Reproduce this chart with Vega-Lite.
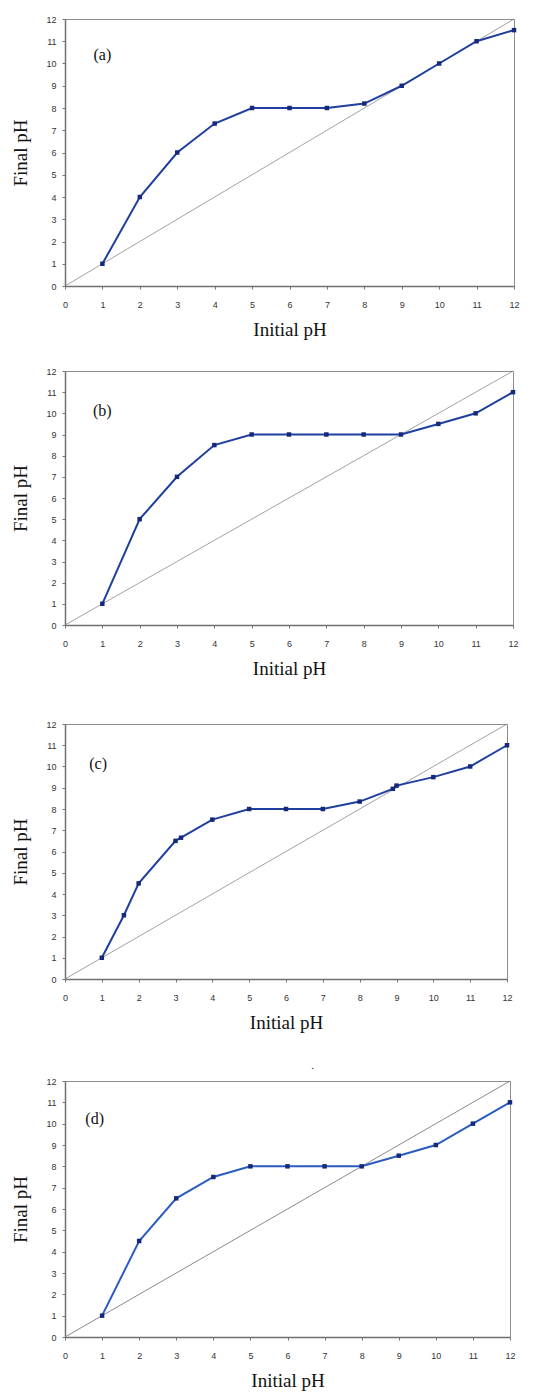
{
  "$schema": "https://vega.github.io/schema/vega-lite/v6.json",
  "background": "white",
  "padding": {"top": 14, "left": 11, "right": 8, "bottom": 0},
  "spacing": 26,
  "config": {
    "view": {"stroke": "#8c8c8c", "strokeWidth": 1},
    "axis": {
      "grid": false,
      "ticks": true,
      "tickSize": 3,
      "tickColor": "#777777",
      "domain": true,
      "domainColor": "#707070",
      "domainWidth": 1.5,
      "labelOverlap": false,
      "labelFont": "Liberation Sans",
      "labelFontSize": 9,
      "labelColor": "#333333",
      "titleFont": "Liberation Serif",
      "titleFontWeight": "normal",
      "titleFontSize": 19,
      "titleColor": "#111111"
    },
    "axisX": {"labelPadding": 11, "titlePadding": 11, "labelFlush": false},
    "axisY": {"labelPadding": 6, "titlePadding": 15},
    "title": {"font": "Liberation Sans", "fontSize": 10, "fontWeight": "normal", "color": "#222222", "offset": 4}
  },
  "datasets": {
    "curves": [
      {"panel": "a", "ix": 1, "x": 1, "y": 1}, {"panel": "a", "ix": 2, "x": 2, "y": 4}, {"panel": "a", "ix": 3, "x": 3, "y": 6}, {"panel": "a", "ix": 4, "x": 4, "y": 7.3}, {"panel": "a", "ix": 5, "x": 5, "y": 8}, {"panel": "a", "ix": 6, "x": 6, "y": 8}, {"panel": "a", "ix": 7, "x": 7, "y": 8}, {"panel": "a", "ix": 8, "x": 8, "y": 8.2}, {"panel": "a", "ix": 9, "x": 9, "y": 9}, {"panel": "a", "ix": 10, "x": 10, "y": 10}, {"panel": "a", "ix": 11, "x": 11, "y": 11}, {"panel": "a", "ix": 12, "x": 12, "y": 11.5},
      {"panel": "b", "ix": 1, "x": 1, "y": 1}, {"panel": "b", "ix": 2, "x": 2, "y": 5}, {"panel": "b", "ix": 3, "x": 3, "y": 7}, {"panel": "b", "ix": 4, "x": 4, "y": 8.5}, {"panel": "b", "ix": 5, "x": 5, "y": 9}, {"panel": "b", "ix": 6, "x": 6, "y": 9}, {"panel": "b", "ix": 7, "x": 7, "y": 9}, {"panel": "b", "ix": 8, "x": 8, "y": 9}, {"panel": "b", "ix": 9, "x": 9, "y": 9}, {"panel": "b", "ix": 10, "x": 10, "y": 9.5}, {"panel": "b", "ix": 11, "x": 11, "y": 10}, {"panel": "b", "ix": 12, "x": 12, "y": 11},
      {"panel": "c", "ix": 1, "x": 1, "y": 1}, {"panel": "c", "ix": 2, "x": 1.6, "y": 3}, {"panel": "c", "ix": 3, "x": 2, "y": 4.5}, {"panel": "c", "ix": 4, "x": 3, "y": 6.5}, {"panel": "c", "ix": 5, "x": 3.15, "y": 6.65}, {"panel": "c", "ix": 6, "x": 4, "y": 7.5}, {"panel": "c", "ix": 7, "x": 5, "y": 8}, {"panel": "c", "ix": 8, "x": 6, "y": 8}, {"panel": "c", "ix": 9, "x": 7, "y": 8}, {"panel": "c", "ix": 10, "x": 8, "y": 8.35}, {"panel": "c", "ix": 11, "x": 8.9, "y": 8.95}, {"panel": "c", "ix": 12, "x": 9, "y": 9.1}, {"panel": "c", "ix": 13, "x": 10, "y": 9.5}, {"panel": "c", "ix": 14, "x": 11, "y": 10}, {"panel": "c", "ix": 15, "x": 12, "y": 11},
      {"panel": "d", "ix": 1, "x": 1, "y": 1}, {"panel": "d", "ix": 2, "x": 2, "y": 4.5}, {"panel": "d", "ix": 3, "x": 3, "y": 6.5}, {"panel": "d", "ix": 4, "x": 4, "y": 7.5}, {"panel": "d", "ix": 5, "x": 5, "y": 8}, {"panel": "d", "ix": 6, "x": 6, "y": 8}, {"panel": "d", "ix": 7, "x": 7, "y": 8}, {"panel": "d", "ix": 8, "x": 8, "y": 8}, {"panel": "d", "ix": 9, "x": 9, "y": 8.5}, {"panel": "d", "ix": 10, "x": 10, "y": 9}, {"panel": "d", "ix": 11, "x": 11, "y": 10}, {"panel": "d", "ix": 12, "x": 12, "y": 11}
    ],
    "diag": [{"x": 0, "y": 0}, {"x": 12, "y": 12}],
    "labels": [
      {"panel": "a", "x": 1.0, "y": 10.4, "text": "(a)"},
      {"panel": "b", "x": 1.0, "y": 10.1, "text": "(b)"},
      {"panel": "c", "x": 0.9, "y": 10.1, "text": "(c)"},
      {"panel": "d", "x": 0.8, "y": 10.2, "text": "(d)"}
    ]
  },
  "vconcat": [
    {
      "width": 449, "height": 267,
      "encoding": {
        "x": {"field": "x", "type": "quantitative", "scale": {"domain": [0, 12], "nice": false}, "axis": {"values": [0,1,2,3,4,5,6,7,8,9,10,11,12], "labelOverlap": false, "title": "Initial pH", "titleFont": "Liberation Serif"}},
        "y": {"field": "y", "type": "quantitative", "scale": {"domain": [0, 12], "nice": false}, "axis": {"values": [0,1,2,3,4,5,6,7,8,9,10,11,12], "labelOverlap": false, "title": "Final pH", "titleFont": "Liberation Serif"}}
      },
      "layer": [
        {"data": {"name": "diag"}, "mark": {"type": "line", "color": "#7a7a7a", "strokeWidth": 0.7}},
        {"data": {"name": "curves"}, "transform": [{"filter": "datum.panel === 'a'"}],
         "mark": {"type": "line", "color": "#1f3f9f", "strokeWidth": 2, "point": {"shape": "square", "size": 20, "filled": true, "color": "#15287a"}},
         "encoding": {"order": {"field": "ix"}}},
        {"data": {"name": "labels"}, "transform": [{"filter": "datum.panel === 'a'"}],
         "mark": {"type": "text", "font": "Liberation Serif", "fontSize": 16, "color": "#111111"},
         "encoding": {"text": {"field": "text"}}}
      ]
    },
    {
      "width": 448, "height": 254,
      "encoding": {
        "x": {"field": "x", "type": "quantitative", "scale": {"domain": [0, 12], "nice": false}, "axis": {"values": [0,1,2,3,4,5,6,7,8,9,10,11,12], "labelOverlap": false, "title": "Initial pH", "titleFont": "Liberation Serif"}},
        "y": {"field": "y", "type": "quantitative", "scale": {"domain": [0, 12], "nice": false}, "axis": {"values": [0,1,2,3,4,5,6,7,8,9,10,11,12], "labelOverlap": false, "title": "Final pH", "titleFont": "Liberation Serif"}}
      },
      "layer": [
        {"data": {"name": "diag"}, "mark": {"type": "line", "color": "#7a7a7a", "strokeWidth": 0.7}},
        {"data": {"name": "curves"}, "transform": [{"filter": "datum.panel === 'b'"}],
         "mark": {"type": "line", "color": "#1f3f9f", "strokeWidth": 2, "point": {"shape": "square", "size": 20, "filled": true, "color": "#15287a"}},
         "encoding": {"order": {"field": "ix"}}},
        {"data": {"name": "labels"}, "transform": [{"filter": "datum.panel === 'b'"}],
         "mark": {"type": "text", "font": "Liberation Serif", "fontSize": 16, "color": "#111111"},
         "encoding": {"text": {"field": "text"}}}
      ]
    },
    {
      "width": 442, "height": 255,
      "title": {"text": " ", "fontSize": 10},
      "encoding": {
        "x": {"field": "x", "type": "quantitative", "scale": {"domain": [0, 12], "nice": false}, "axis": {"values": [0,1,2,3,4,5,6,7,8,9,10,11,12], "labelOverlap": false, "title": "Initial pH", "titleFont": "Liberation Serif"}},
        "y": {"field": "y", "type": "quantitative", "scale": {"domain": [0, 12], "nice": false}, "axis": {"values": [0,1,2,3,4,5,6,7,8,9,10,11,12], "labelOverlap": false, "title": "Final pH", "titleFont": "Liberation Serif"}}
      },
      "layer": [
        {"data": {"name": "diag"}, "mark": {"type": "line", "color": "#7a7a7a", "strokeWidth": 0.7}},
        {"data": {"name": "curves"}, "transform": [{"filter": "datum.panel === 'c'"}],
         "mark": {"type": "line", "color": "#1f3f9f", "strokeWidth": 2, "point": {"shape": "square", "size": 20, "filled": true, "color": "#15287a"}},
         "encoding": {"order": {"field": "ix"}}},
        {"data": {"name": "labels"}, "transform": [{"filter": "datum.panel === 'c'"}],
         "mark": {"type": "text", "font": "Liberation Serif", "fontSize": 16, "color": "#111111"},
         "encoding": {"text": {"field": "text"}}}
      ]
    },
    {
      "width": 445, "height": 256,
      "title": {"text": ".", "fontSize": 11, "dx": 25, "offset": 6},
      "encoding": {
        "x": {"field": "x", "type": "quantitative", "scale": {"domain": [0, 12], "nice": false}, "axis": {"values": [0,1,2,3,4,5,6,7,8,9,10,11,12], "labelOverlap": false, "title": "Initial pH", "titleFont": "Liberation Serif"}},
        "y": {"field": "y", "type": "quantitative", "scale": {"domain": [0, 12], "nice": false}, "axis": {"values": [0,1,2,3,4,5,6,7,8,9,10,11,12], "labelOverlap": false, "title": "Final pH", "titleFont": "Liberation Serif"}}
      },
      "layer": [
        {"data": {"name": "diag"}, "mark": {"type": "line", "color": "#8a8a8a", "strokeWidth": 1}},
        {"data": {"name": "curves"}, "transform": [{"filter": "datum.panel === 'd'"}],
         "mark": {"type": "line", "color": "#2a5cc0", "strokeWidth": 2, "point": {"shape": "square", "size": 20, "filled": true, "color": "#15287a"}},
         "encoding": {"order": {"field": "ix"}}},
        {"data": {"name": "labels"}, "transform": [{"filter": "datum.panel === 'd'"}],
         "mark": {"type": "text", "font": "Liberation Serif", "fontSize": 16, "color": "#111111"},
         "encoding": {"text": {"field": "text"}}}
      ]
    }
  ]
}
